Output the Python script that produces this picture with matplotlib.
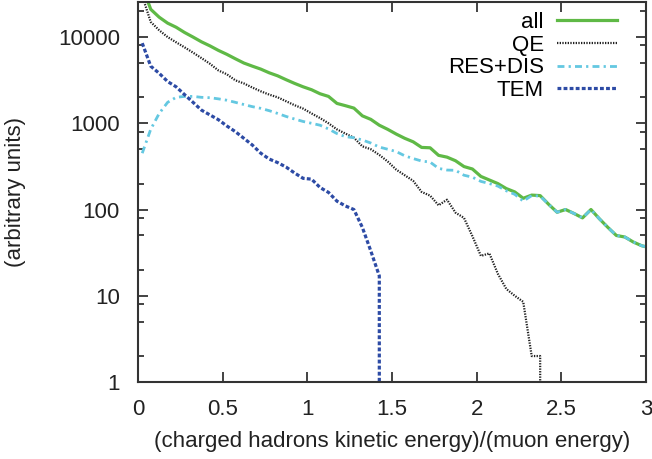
import numpy as np
import matplotlib
matplotlib.use('Agg')
import matplotlib.pyplot as plt
from matplotlib.ticker import FixedLocator, NullFormatter

plt.rcParams['font.family'] = ['Liberation Sans', 'DejaVu Sans']

# bin centres (width 0.05)
x = np.arange(61) * 0.05 + 0.025

all_ev = [39000, 21000, 17000, 14500, 13000, 11300, 10000, 8800, 7900, 7000,
          6300, 5600, 5000, 4600, 4250, 3850, 3550, 3200, 2900, 2650,
          2450, 2200, 2050, 1700, 1600, 1500, 1220, 1110, 950, 850,
          750, 670, 610, 525, 520, 425, 405, 368, 315, 295,
          242, 220, 200, 175, 160, 135, 147, 145, 115, 93,
          100, 90, 80, 100, 78, 62, 50, 48, 42, 38, 36]
qe = [30000, 15000, 12000, 10000, 8700, 7600, 6600, 5700, 4900, 4100,
      3700, 3150, 2900, 2600, 2350, 2150, 2000, 1800, 1620, 1480,
      1300, 1150, 1000, 850, 760, 680, 540, 500, 430, 360,
      290, 250, 215, 160, 145, 112, 130, 92, 80, 49,
      29, 31, 18, 12, 10, 8.5, 2, 2, 0, 0,
      0, 0, 0, 0, 0, 0, 0, 0, 0, 0, 0]
res_dis = [450, 850, 1300, 1750, 2000, 2050, 2050, 2000, 1980, 1920,
           1850, 1750, 1650, 1560, 1490, 1400, 1300, 1200, 1120, 1050,
           1000, 950, 860, 760, 700, 680, 640, 590, 530, 500,
           470, 420, 390, 365, 355, 300, 287, 285, 250, 237,
           212, 200, 187, 165, 150, 125, 145, 143, 115, 93,
           100, 90, 80, 100, 78, 62, 50, 48, 42, 38, 36]
tem = [8500, 4600, 3800, 3050, 2650, 2150, 1750, 1420, 1250, 1100,
       930, 800, 670, 560, 450, 385, 350, 310, 265, 230,
       225, 180, 158, 125, 110, 100, 62, 33, 17, 0,
       0, 0, 0, 0, 0, 0, 0, 0, 0, 0,
       0, 0, 0, 0, 0, 0, 0, 0, 0, 0,
       0, 0, 0, 0, 0, 0, 0, 0, 0, 0, 0]

def trim(vals):
    # keep the series up to the first empty bin after the last filled one
    v = np.array(vals, dtype=float)
    nz = np.nonzero(v)[0]
    end = min(nz[-1] + 2, len(v))
    return x[:end], v[:end]

fig = plt.figure(figsize=(6.52, 4.59), dpi=100)
ax = fig.add_axes([138 / 652, 1 - 382 / 459, 508 / 652, 380 / 459])
ax.set_yscale('log', nonpositive='clip')

ax.plot(x, all_ev, color='#5FB946', lw=2.3, label='all')
xq, yq = trim(qe)
ax.plot(xq, yq, color='#222222', lw=1.6, dashes=(0.6, 0.6), label='QE')
ax.plot(x, res_dis, color='#64C8E1', lw=2.0, dashes=(2.5, 1.5, 0.8, 1.5), label='RES+DIS')
xt, yt = trim(tem)
ax.plot(xt, yt, color='#2D4BA5', lw=2.3, dashes=(1.2, 0.7), label='TEM')

ax.set_xlim(0, 3)
ax.set_ylim(1, 25500)

ax.set_xticks([0, 0.5, 1, 1.5, 2, 2.5, 3])
ax.set_xticklabels(['0', '0.5', '1', '1.5', '2', '2.5', '3'])
ax.set_yticks([1, 10, 100, 1000, 10000])
ax.set_yticklabels(['1', '10', '100', '1000', '10000'])
minors = [m * 10 ** d for d in range(0, 5) for m in (2, 5, 8)]
ax.yaxis.set_minor_locator(FixedLocator(minors))
ax.yaxis.set_minor_formatter(NullFormatter())
ax.tick_params(which='both', direction='in', top=True, right=True,
               labelsize=16, colors='#222222', width=1.2)
ax.tick_params(which='major', length=7)
ax.tick_params(which='minor', length=4)
ax.tick_params(axis='x', which='major', pad=12)
ax.tick_params(axis='y', which='major', pad=13)

for s in ax.spines.values():
    s.set_linewidth(1.5)
    s.set_color('#333333')

ax.set_xlabel('(charged hadrons kinetic energy)/(muon energy)', fontsize=16,
              color='#222222', labelpad=8)
ax.set_ylabel('(arbitrary units)', fontsize=16, color='#222222', labelpad=23)

ax.legend(loc='upper right', frameon=False, markerfirst=False, fontsize=16,
          handlelength=2.7, handletextpad=0.6, labelspacing=0.08,
          borderaxespad=0.3, bbox_to_anchor=(0.974, 1.015))

fig.savefig('out.png', dpi=100)
